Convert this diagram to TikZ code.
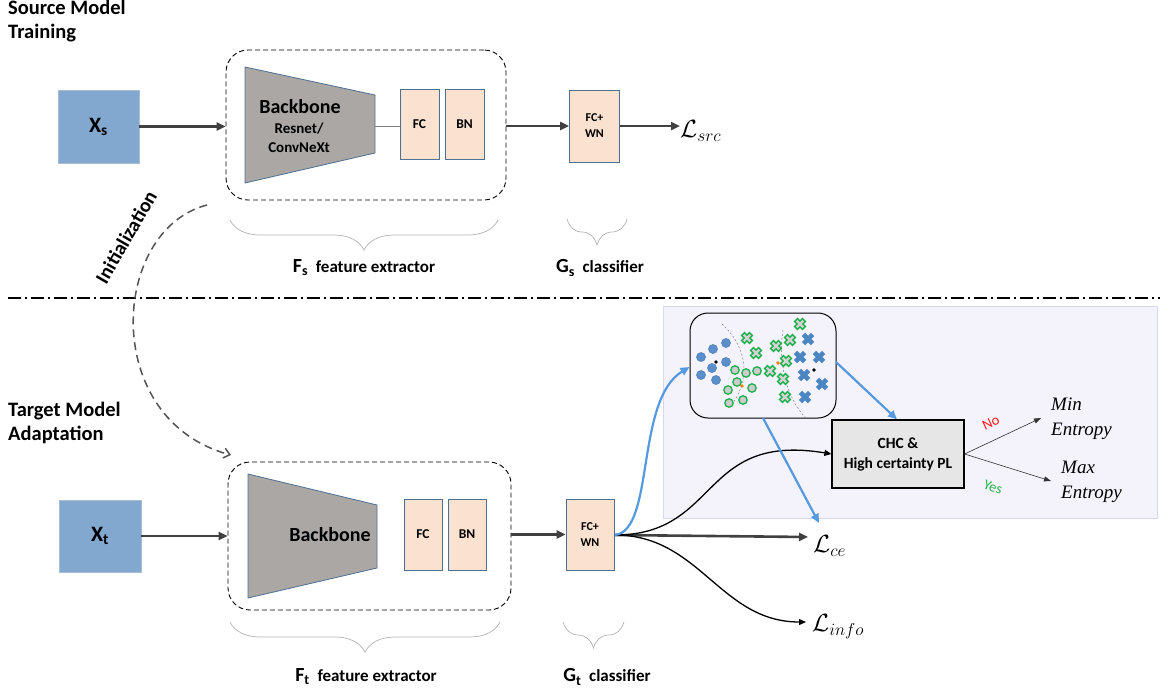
\documentclass[tikz,border=0pt]{standalone}
\usepackage{fontspec}
\setmainfont{Carlito}
\newfontfamily\scriptf{Liberation Serif}
\usetikzlibrary{arrows.meta,decorations.pathreplacing,calc}
\definecolor{xblue}{HTML}{82A8CF}
\definecolor{xedge}{HTML}{A9BED3}
\definecolor{peach}{HTML}{FBE2D0}
\definecolor{bbgray}{HTML}{ABA7A5}
\definecolor{edgeblue}{HTML}{4F6F91}
\definecolor{arrowgray}{HTML}{404040}
\definecolor{skyblue}{HTML}{5599E0}
\definecolor{lav}{HTML}{F4F2FB}
\definecolor{lavedge}{HTML}{D5D8EE}
\definecolor{ptblue}{HTML}{5B8FCB}
\definecolor{ptgreen}{HTML}{1DB14B}
\definecolor{crossblue}{HTML}{4A86C2}
\definecolor{chcgray}{HTML}{E6E6E6}
\definecolor{norred}{HTML}{FF1A1A}
\definecolor{yesgreen}{HTML}{22B34A}
\begin{document}
\begin{tikzpicture}[x=1pt,y=-1pt,
  xbox/.style={draw=xedge,fill=xblue,minimum width=81pt,minimum height=73pt,inner sep=0pt,font=\fontsize{22}{24}\selectfont\bfseries},
  dashbox/.style={draw,line width=0.9pt,dash pattern=on 5pt off 3pt,rounded corners=22pt,minimum width=280pt,minimum height=150pt,inner sep=0pt},
  layerbox/.style={draw=edgeblue,fill=peach,line width=0.8pt,minimum width=39pt,minimum height=70pt,inner sep=0pt,font=\fontsize{13.5}{14}\selectfont\bfseries},
  clsbox/.style={draw=edgeblue,fill=peach,line width=0.8pt,minimum width=50pt,minimum height=72pt,inner sep=0pt,align=center,font=\fontsize{12}{16}\selectfont\bfseries},
  trap/.style={draw=edgeblue,fill=bbgray,line width=0.8pt},
  mainarrow/.style={draw=arrowgray,line width=2.6pt,-{Triangle[length=9pt,width=8pt]}},
  bluearrow/.style={draw=skyblue,line width=2.2pt,-{Triangle[length=9pt,width=8pt]}},
  blackarrow/.style={draw=black,line width=1.3pt,-{Triangle[length=7pt,width=6pt]}},
  thinarrow/.style={draw=black!80,line width=0.6pt,-{Triangle[length=7pt,width=5pt]}},
  bracestyle/.style={draw=gray!60,line width=0.7pt,decorate,decoration={brace,amplitude=30pt}},
  title/.style={align=left,anchor=north west,inner sep=0pt,font=\fontsize{20.5}{24}\selectfont\bfseries},
  lbl/.style={font=\fontsize{17}{19}\selectfont\bfseries},
  loss/.style={font=\fontsize{26}{28}\selectfont,inner sep=0pt,anchor=west},
  entropy/.style={align=left,anchor=west,inner sep=0pt,font=\fontsize{19}{25}\selectfont\scriptf\itshape},
  gx/.pic={\draw[ptgreen,line width=5.4pt] (-4.4,-4.4)--(4.4,4.4) (-4.4,4.4)--(4.4,-4.4);
           \draw[gray!35,line width=2.2pt] (-3.3,-3.3)--(3.3,3.3) (-3.3,3.3)--(3.3,-3.3);},
  bx/.pic={\draw[crossblue,line width=4.6pt] (-4.6,-4.6)--(4.6,4.6) (-4.6,4.6)--(4.6,-4.6);},
  bdot/.style={fill=ptblue,draw=ptblue!85!black,line width=0.4pt},
  gdot/.style={fill=gray!40,draw=ptgreen,line width=1.3pt}
]
\useasboundingbox (0,0) rectangle (1162,694);

% ---------- titles ----------
\node[title] (srctitle) at (8,0) {Source Model\\Training};
\node[title] (tgttitle) at (8,402) {Target Model\\Adaptation};

% ---------- separator ----------
\coordinate (sepL) at (8,298);
\coordinate (sepR) at (1160,298);
\draw[line width=1.5pt,dash pattern=on 13pt off 4pt on 2pt off 4pt] (sepL) -- (sepR);

% ---------- source branch ----------
\node[xbox] (xs) at (98.5,126.5) {X\textsubscript{s}};
\node[dashbox] (fs) at (366,125) {};
\draw[trap] (245,67) -- (375,95) -- (375,153) -- (245,183) -- cycle;
\coordinate (bbsR) at (375,126);
\node[font=\fontsize{20}{22}\selectfont\bfseries] (bbs) at (300,107) {Backbone};
\node[align=center,font=\fontsize{15}{19}\selectfont\bfseries] (bbsub) at (299,138) {Resnet/\\ConvNeXt};
\node[layerbox] (fcs) at (419.5,124) {FC};
\node[layerbox] (bns) at (464.5,124) {BN};
\draw[gray,line width=0.6pt] (bbsR) -- (fcs.west|-bbsR);
\node[clsbox] (gs) at (594.5,126) {FC+\\WN};
\node[loss] (lsrc) at (680,131) {$\mathcal{L}_{src}$};
\draw[mainarrow] (xs.east) -- (xs.east-|fs.west);
\draw[mainarrow] (fs.east|-gs.west) -- (gs.west);
\draw[mainarrow] (gs.east) -- (gs.east-|lsrc.west);

\draw[bracestyle] (498,220) -- (230,220);
\draw[bracestyle,decoration={brace,amplitude=26pt}] (627,219) -- (567,219);
\node[lbl] (fslbl) at (364,268) {\fontsize{20}{22}\selectfont F\textsubscript{s}\fontsize{17}{19}\selectfont\ \ feature extractor};
\node[lbl] (gslbl) at (600,268) {\fontsize{20}{22}\selectfont G\textsubscript{s}\fontsize{17}{19}\selectfont\ \ classifier};

% ---------- initialization ----------
\coordinate (initS) at (207,205);
\node[dashbox,minimum width=283pt,minimum height=148pt] (ft) at (369.5,536) {};
\coordinate (initE) at (231,455);
\draw[draw=arrowgray!90,line width=1.5pt,dash pattern=on 8pt off 5pt,-{Straight Barb[length=6pt,width=10pt]}]
  (initS) .. controls (110,230) and (100,420) .. (initE);
\node[rotate=60,font=\fontsize{20}{22}\selectfont\bfseries] (initlbl) at (126,237) {Initialization};

% ---------- target branch ----------
\node[xbox,minimum width=82pt,minimum height=72pt] (xt) at (100,536) {X\textsubscript{t}};
\draw[trap] (248,474) -- (377,505) -- (377,568) -- (248,598) -- cycle;
\node[font=\fontsize{20}{22}\selectfont\bfseries] (bbt) at (330,535) {Backbone};
\node[layerbox,minimum width=38pt,minimum height=71pt] (fct) at (423,534.5) {FC};
\node[layerbox,minimum width=38pt,minimum height=71pt] (bnt) at (467,534.5) {BN};
\node[clsbox,minimum width=48pt,minimum height=71pt] (gt) at (590,534.5) {FC+\\WN};
\draw[mainarrow] (xt.east) -- (xt.east-|ft.west);
\draw[mainarrow] (ft.east|-gt.west) -- (gt.west);

\draw[bracestyle] (500,622) -- (230,622);
\draw[bracestyle,decoration={brace,amplitude=26pt}] (624,622) -- (563,622);
\node[lbl] (ftlbl) at (366,677) {\fontsize{20}{22}\selectfont F\textsubscript{t}\fontsize{17}{19}\selectfont\ \ feature extractor};
\node[lbl] (gtlbl) at (607,677) {\fontsize{20}{22}\selectfont G\textsubscript{t}\fontsize{17}{19}\selectfont\ \ classifier};

% ---------- adaptation panel ----------
\node[draw=lavedge,fill=lav,line width=0.8pt,minimum width=494pt,minimum height=212pt,inner sep=0pt] (panel) at (910,412) {};
\node[draw,line width=1pt,rounded corners=18pt,minimum width=146pt,minimum height=105pt,inner sep=0pt] (scat) at (763,365.5) {};
\draw[gray,line width=0.5pt,dash pattern=on 2pt off 2pt] (722,324) .. controls (745,345) and (752,375) .. (733,403);
\draw[gray,line width=0.5pt,dash pattern=on 2pt off 2pt] (783,330) .. controls (778,362) and (786,398) .. (806,418);
\foreach \p in {(701,357),(713,349),(726,343),(712,368),(726,362),(701,375),(716,380)}
  \draw[bdot] \p circle (4.6);
\foreach \p in {(735,370),(746,373),(757,371),(737,382),(728,390),(752,388),(743,400),(729,403)}
  \draw[gdot] \p circle (4.2);
\foreach \p in {(747,338),(756,353),(776,346),(790,340),(800,324),(786,361),(770,371),(783,379),(785,397)}
  \pic at \p {gx};
\foreach \p in {(808,339),(800,357),(819,357),(804,375),(822,384),(805,397)}
  \pic at \p {bx};
\fill[black] (716,362) circle (1.8) (814,370) circle (1.8);
\fill[orange] (742,386) circle (1.8) (778,363) circle (1.8);

\node[draw,fill=chcgray,line width=1.2pt,minimum width=132pt,minimum height=68pt,inner sep=0pt,align=center,font=\fontsize{15.5}{20}\selectfont\bfseries] (chc) at (898,454) {CHC \&\\High certainty PL};
\node[entropy] (minE) at (1051,419) {Min\\Entropy};
\node[entropy] (maxE) at (1061,482) {Max\\Entropy};
\coordinate (minT) at (1041,418);
\coordinate (maxT) at (1051,481);
\draw[thinarrow] (chc.east) -- (minT);
\draw[thinarrow] (chc.east) -- (maxT);
\node[rotate=25,text=norred,font=\fontsize{14.5}{15}\selectfont] (no) at (991,423) {No};
\node[rotate=-20,text=yesgreen,font=\fontsize{14.5}{15}\selectfont] (yes) at (993,487) {Yes};

% ---------- outputs of target classifier ----------
\coordinate (gout) at (615,535);
\node[loss] (lce) at (813,546) {$\mathcal{L}_{ce}$};
\node[loss] (linfo) at (812,627) {$\mathcal{L}_{info}$};
\coordinate (ceT) at (808,537);
\coordinate (infoT) at (806,622);
\draw[mainarrow] (gout) -- (ceT);
\draw[blackarrow] (gout) .. controls (700,535) and (720,622) .. (infoT);
\draw[blackarrow] (gout) .. controls (720,535) and (700,432) .. (chc.west);
\draw[bluearrow] (gout) .. controls (655,530) and (635,400) .. (scat.west|-0,367);
\coordinate (scatR) at (836,362);
\coordinate (scatB) at (763,418);
\coordinate (ceB) at (819,523);
\draw[bluearrow] (scatR) -- (chc.north-|897,0);
\draw[bluearrow] (scatB) -- (ceB);
\end{tikzpicture}
\end{document}
